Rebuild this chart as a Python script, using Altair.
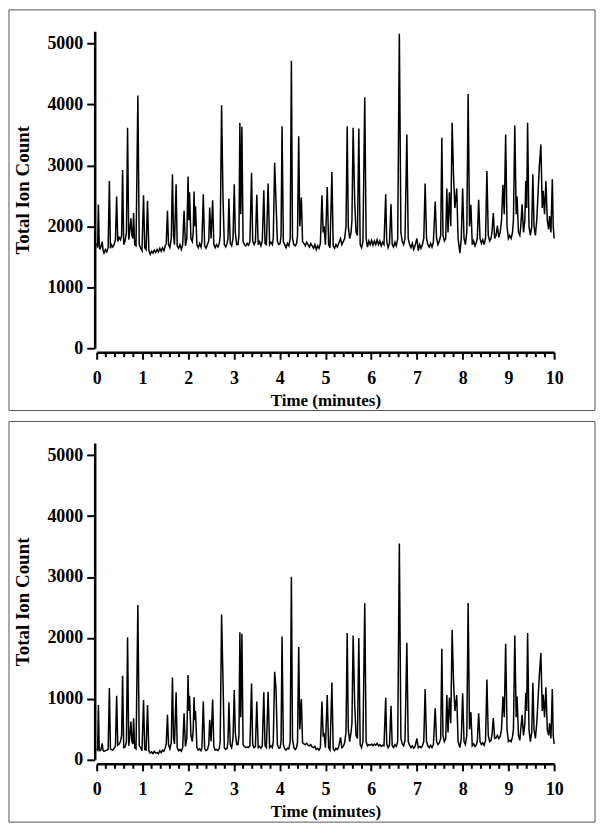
import altair as alt
import pandas as pd

# Retention time (minutes), shared by both traces
time_min = [
    0.00, 0.02, 0.037, 0.055, 0.07, 0.09, 0.12, 0.14, 0.16, 0.19, 0.22, 0.25, 0.277, 0.30, 0.32, 0.35, 0.38, 0.41, 0.436, 0.46, 0.49,
    0.52, 0.545, 0.566, 0.59, 0.62, 0.65, 0.675, 0.70, 0.72, 0.748, 0.77, 0.79, 0.806, 0.83, 0.86, 0.90, 0.93, 0.96, 0.99, 1.024, 1.05, 1.08, 1.111,
    1.14, 1.17, 1.20, 1.23, 1.26, 1.29, 1.32, 1.35, 1.38, 1.41, 1.44, 1.47, 1.50,
    1.52, 1.547, 1.57, 1.60, 1.63, 1.656, 1.68, 1.70, 1.736, 1.76, 1.79, 1.82, 1.85, 1.88, 1.91, 1.94, 1.97, 1.997, 2.015, 2.03,
    2.06, 2.09, 2.11, 2.128, 2.145, 2.16, 2.19, 2.22, 2.25, 2.28, 2.30, 2.33, 2.36, 2.39, 2.42, 2.45, 2.47, 2.50, 2.535,
    2.56, 2.59, 2.62, 2.65, 2.68, 2.70, 2.73, 2.76, 2.79, 2.82, 2.85, 2.87, 2.89, 2.92, 2.95, 2.98, 3.007, 3.03, 3.06, 3.09, 3.11, 3.13, 3.15, 3.174,
    3.20, 3.23, 3.26, 3.29, 3.32, 3.35, 3.385, 3.41, 3.44, 3.47, 3.50, 3.53, 3.56, 3.59, 3.62, 3.653, 3.68, 3.71, 3.747,
    3.78, 3.81, 3.84, 3.86, 3.89, 3.92, 3.95, 3.98, 4.01, 4.03, 4.052, 4.08, 4.11, 4.14, 4.17, 4.20, 4.23, 4.256,
    4.28, 4.31, 4.34, 4.37, 4.39, 4.416, 4.44, 4.474, 4.50, 4.53, 4.56, 4.59, 4.62, 4.65, 4.68, 4.71, 4.74, 4.77, 4.80, 4.83, 4.86, 4.89,
    4.924, 4.95, 4.97, 5.00, 5.04, 5.07, 5.10, 5.142, 5.17, 5.20, 5.23, 5.26, 5.29, 5.33, 5.36, 5.39, 5.42, 5.45, 5.476,
    5.50, 5.53, 5.56, 5.58, 5.606, 5.64, 5.67, 5.70, 5.73, 5.76, 5.79, 5.82, 5.86,
    5.89, 5.92, 5.95, 5.98, 6.01, 6.04, 6.07, 6.10, 6.13, 6.16, 6.19, 6.22, 6.25, 6.28, 6.318, 6.34, 6.37, 6.40, 6.434,
    6.46, 6.49, 6.52, 6.55, 6.58, 6.616, 6.65, 6.68, 6.71, 6.74, 6.78, 6.81, 6.84, 6.87, 6.90, 6.93, 6.96,
    7.00, 7.03, 7.06, 7.09, 7.12, 7.15, 7.18, 7.21, 7.24, 7.27, 7.30, 7.33, 7.36, 7.40, 7.43, 7.46, 7.49, 7.52, 7.545,
    7.57, 7.60, 7.63, 7.654, 7.68, 7.71, 7.74, 7.77, 7.80, 7.83, 7.87, 7.90, 7.94, 7.97, 8.00, 8.03, 8.06, 8.09, 8.12, 8.15, 8.18,
    8.21, 8.24, 8.27, 8.30, 8.32, 8.35, 8.38, 8.41, 8.44, 8.47, 8.50, 8.53, 8.56, 8.59, 8.62, 8.64, 8.67, 8.70, 8.73, 8.76,
    8.79, 8.82, 8.85, 8.88, 8.91, 8.94, 8.97, 9.00, 9.03, 9.06, 9.09, 9.11, 9.14, 9.17, 9.19, 9.22, 9.25, 9.27, 9.30, 9.33, 9.36, 9.38, 9.40, 9.42,
    9.45, 9.48, 9.51, 9.535, 9.56, 9.59, 9.62, 9.675, 9.71, 9.74, 9.76, 9.79, 9.82, 9.85, 9.88, 9.90, 9.93, 9.96, 9.98, 10.00,
]

# Upper trace: raw total ion count
top_counts = [
    1720, 1650, 2360, 1700, 1620, 1660, 1750, 1600, 1560, 1620, 1580, 1650, 2745, 1640, 1700, 1660, 1700, 1780, 2490, 1750, 1820,
    1780, 1850, 2925, 1700, 1760, 1900, 3617, 1780, 1900, 2130, 1850, 1800, 2217, 1700, 1680, 4145, 1700, 1640, 1600, 2510, 1650, 1620, 2418,
    1600, 1540, 1590, 1560, 1610, 1570, 1620, 1580, 1640, 1590, 1650, 1600, 1680,
    1720, 2255, 1700, 1650, 1800, 2854, 1850, 1700, 2691, 1680, 1640, 1700, 1620, 1700, 2255, 1680, 1800, 2816, 2100, 2560,
    1800, 1750, 1900, 2571, 2000, 2330, 1700, 1650, 1720, 1660, 1750, 2527, 1680, 1640, 1700, 1760, 2309, 1800, 2429,
    1700, 1650, 1700, 1660, 1720, 1850, 3987, 2500, 1700, 1660, 1720, 1800, 2456, 1720, 1680, 1800, 2691, 1900, 1700, 1700, 1850, 3698, 2200, 3632,
    1750, 1700, 1680, 1720, 1690, 1750, 2881, 1760, 1700, 1750, 2516, 1700, 1750, 1680, 1760, 2593, 1720, 1700, 2702,
    1700, 1740, 1700, 1800, 3045, 2400, 1750, 1700, 1720, 1850, 3644, 1750, 1700, 1650, 1720, 1680, 1800, 4717,
    1800, 1700, 1680, 1720, 1850, 3480, 2000, 2473, 1750, 1720, 1680, 1740, 1700, 1660, 1720, 1680, 1640, 1700, 1620, 1680, 1640, 1720,
    2511, 1900, 2000, 1700, 2647, 1700, 1650, 2892, 1680, 1640, 1700, 1660, 1720, 1800, 1700, 1750, 1800, 2000, 3644,
    2000, 1800, 1900, 2100, 3617, 2400, 1900, 1850, 3606, 1700, 1650, 1750, 4118,
    1800, 1660, 1760, 1700, 1770, 1690, 1760, 1700, 1780, 1700, 1760, 1680, 1740, 1700, 2527, 1760, 1650, 1720, 2364,
    1700, 1660, 1740, 1680, 1800, 5158, 1900, 1750, 1700, 1800, 3508, 1800, 1700, 1650, 1720, 1620, 1690,
    1800, 1600, 1700, 1640, 1700, 1800, 2702, 1800, 1700, 1660, 1720, 1660, 1740, 2407, 1800, 1700, 1760, 1850, 3453,
    1850, 1760, 1800, 2620, 1900, 2560, 2000, 3698, 2850, 2300, 2620, 1800, 1560, 1800, 2620, 1800, 1700, 1900, 4172, 2000, 2353,
    1700, 1760, 1680, 1740, 1800, 2435, 1800, 1720, 1780, 1700, 1800, 2908, 1850, 1760, 1800, 1900, 2217, 1800, 1850, 2010,
    1820, 1900, 2100, 2680, 2200, 3508, 2000, 1800, 1850, 1800, 1900, 2100, 3655, 2200, 2490, 1900, 1850, 2000, 2360, 1900, 2100, 2745, 2300, 3698,
    2000, 1850, 2000, 2854, 2000, 1850, 2100, 2963, 3344, 2300, 2582, 2200, 2745, 2100, 1950, 2170, 1900, 2772, 2000, 1800,
]

# Lower trace: baseline-corrected total ion count
bottom_counts = [
    180, 160, 900, 170, 150, 160, 270, 150, 140, 150, 160, 170, 1180, 180, 170, 160, 190, 230, 1050, 240, 260,
    300, 400, 1380, 200, 210, 300, 2010, 230, 350, 630, 300, 260, 680, 200, 180, 2540, 230, 200, 150, 980, 170, 160, 900,
    150, 110, 130, 100, 140, 110, 120, 100, 150, 120, 160, 140, 200,
    260, 740, 250, 180, 280, 1350, 350, 260, 1107, 200, 150, 170, 140, 200, 765, 220, 350, 1390, 800, 1050,
    400, 300, 500, 1026, 650, 800, 200, 160, 180, 150, 200, 955, 180, 150, 170, 250, 657, 300, 988,
    220, 160, 170, 150, 190, 300, 2383, 1340, 200, 170, 190, 300, 945, 250, 200, 350, 1145, 450, 250, 250, 400, 2095, 700, 2068,
    250, 220, 200, 210, 200, 230, 1254, 250, 200, 220, 955, 200, 220, 190, 230, 1107, 230, 200, 1118,
    200, 230, 200, 300, 1444, 1160, 250, 190, 200, 300, 2025, 250, 180, 160, 190, 180, 300, 3002,
    350, 200, 170, 200, 300, 1851, 500, 999, 280, 260, 250, 270, 240, 230, 250, 210, 200, 220, 170, 190, 160, 200,
    955, 400, 420, 200, 1064, 200, 160, 1270, 180, 150, 190, 170, 210, 370, 200, 220, 280, 450, 2079,
    500, 300, 450, 600, 2041, 900, 400, 350, 1998, 250, 200, 300, 2568,
    300, 230, 250, 240, 260, 230, 260, 240, 270, 230, 250, 220, 240, 230, 1020, 260, 200, 240, 885,
    230, 200, 250, 220, 300, 3550, 350, 260, 230, 320, 1922, 300, 240, 200, 230, 190, 220,
    350, 200, 220, 200, 230, 300, 1162, 300, 230, 200, 240, 200, 250, 847, 300, 250, 280, 350, 1824,
    400, 300, 350, 1064, 450, 1020, 600, 2133, 1300, 800, 1064, 300, 200, 350, 1091, 300, 250, 400, 2573, 500, 782,
    230, 260, 220, 250, 300, 765, 300, 250, 280, 240, 320, 1319, 400, 300, 320, 400, 684, 350, 360, 400,
    350, 380, 500, 1040, 700, 1905, 500, 300, 320, 300, 380, 500, 2041, 700, 1040, 400, 320, 500, 740, 400, 600, 1100, 800, 2079,
    500, 300, 450, 1265, 500, 350, 600, 1370, 1754, 800, 1070, 700, 1190, 500, 400, 600, 350, 1162, 400, 260,
]

assert len(time_min) == len(top_counts) == len(bottom_counts)

y_tick_values = [0, 1000, 2000, 3000, 4000, 5000]
x_major_ticks = [0, 1, 2, 3, 4, 5, 6, 7, 8, 9, 10]
x_minor_ticks = [0.2, 0.4, 0.6, 0.8, 1.2, 1.4, 1.6, 1.8, 2.2, 2.4, 2.6, 2.8,
                 3.2, 3.4, 3.6, 3.8, 4.2, 4.4, 4.6, 4.8, 5.2, 5.4, 5.6, 5.8,
                 6.2, 6.4, 6.6, 6.8, 7.2, 7.4, 7.6, 7.8, 8.2, 8.4, 8.6, 8.8,
                 9.2, 9.4, 9.6, 9.8]

W = 459
H = 318
FONT = "Liberation Serif"


def panel(values):
    df = pd.DataFrame({"t": time_min, "v": values})
    xscale = alt.Scale(domain=[0, 10], nice=False, zero=False)
    line = alt.Chart(df).mark_line(color="black", strokeWidth=1.5).encode(
        x=alt.X("t:Q", scale=xscale,
                axis=alt.Axis(values=x_major_ticks, title="Time (minutes)", offset=4,
                              tickSize=7, tickWidth=2, domainWidth=2.5, labelPadding=10,
                              labelFlush=False, titlePadding=5, titleFontSize=17,
                              grid=False, format="d")),
        y=alt.Y("v:Q", scale=alt.Scale(domain=[0, 5200], nice=False),
                axis=alt.Axis(values=y_tick_values, title="Total Ion Count", offset=2,
                              tickSize=8, tickWidth=2, domainWidth=2.5, labelPadding=4,
                              labelFlush=False, titlePadding=14, titleFontSize=19,
                              grid=False, format="d")),
    )
    minor = alt.Chart(pd.DataFrame({"m": x_minor_ticks})).mark_rule(
        color="black", strokeWidth=2
    ).encode(
        x=alt.X("m:Q", scale=xscale),
        y=alt.value(H + 4),
        y2=alt.value(H + 9),
    )
    frame = alt.Chart(pd.DataFrame({"k": [0]})).mark_rect(
        filled=False, stroke="#555555", strokeWidth=1
    ).encode(
        x=alt.value(-88), x2=alt.value(500),
        y=alt.value(-21.5), y2=alt.value(380.5),
    )
    return alt.layer(line, minor, frame).properties(width=W, height=H)


chart = alt.vconcat(panel(top_counts), panel(bottom_counts), spacing=10).properties(
    padding=0
).configure_view(strokeWidth=0).configure_axis(
    labelFont=FONT, labelFontSize=18, labelFontWeight="bold", labelColor="black",
    titleFont=FONT, titleFontWeight="bold", titleColor="black",
    domainColor="black", tickColor="black",
)

chart.save("out.html", embed_options={"renderer": "svg", "actions": False})
